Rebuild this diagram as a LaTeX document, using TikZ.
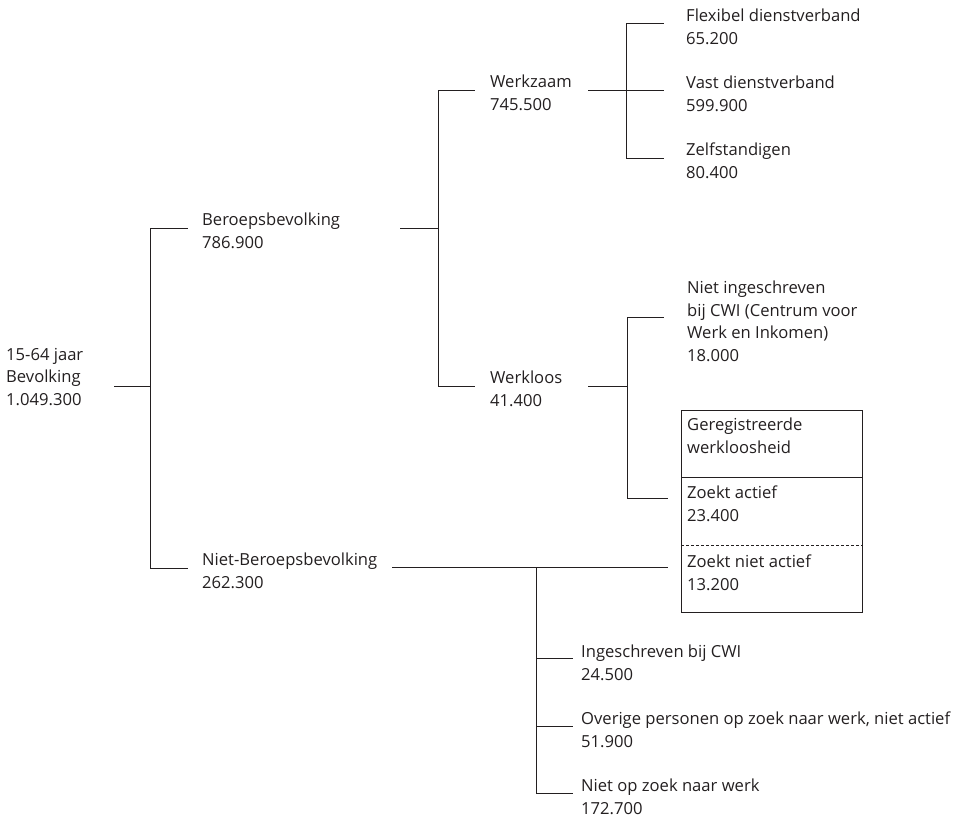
\documentclass[tikz,border=0pt]{standalone}
\usepackage{fontspec}
\setmainfont{Open Sans}
\definecolor{ink}{RGB}{35,31,32}
\begin{document}
\begin{tikzpicture}[x=1pt,y=-1pt,
  lbl/.style={anchor=north west,inner sep=0pt,align=left,text=ink,font=\fontsize{16.6}{22.5}\selectfont},
  conn/.style={draw=ink,line width=1pt},
  sep/.style={draw=ink,line width=1pt},
  dsep/.style={draw=ink,line width=1pt,dash pattern=on 3pt off 2pt}]
\useasboundingbox (0,0) rectangle (964,817);
% text nodes
\node[lbl] (root) at (6,348) {15-64 jaar\\Bevolking\\1.049.300};
\node[lbl] (beroeps) at (202,213) {Beroepsbevolking\\786.900};
\node[lbl] (nietb) at (202,553) {Niet-Beroepsbevolking\\262.300};
\node[lbl] (werkz) at (490,75) {Werkzaam\\745.500};
\node[lbl] (werkl) at (490,371) {Werkloos\\41.400};
\node[lbl] (flex) at (686,9) {Flexibel dienstverband\\65.200};
\node[lbl] (vast) at (686,76) {Vast dienstverband\\599.900};
\node[lbl] (zelf) at (686,143) {Zelfstandigen\\80.400};
\node[lbl] (nietin) at (687,281) {Niet ingeschreven\\bij CWI (Centrum voor\\Werk en Inkomen)\\18.000};
\node[draw=ink,line width=1pt,anchor=north west,minimum width=181pt,minimum height=202pt,inner sep=0pt] (box) at (681,410) {};
\node[lbl] (gereg) at (687,418) {Geregistreerde\\werkloosheid};
\node[lbl] (actief) at (687,486) {Zoekt actief\\23.400};
\node[lbl] (nactief) at (687,555) {Zoekt niet actief\\13.200};
\node[lbl] (ingcwi) at (581,645) {Ingeschreven bij CWI\\24.500};
\node[lbl] (overig) at (581,712) {Overige personen op zoek naar werk, niet actief\\51.900};
\node[lbl] (nietzoek) at (581,779) {Niet op zoek naar werk\\172.700};
% joints
\coordinate (r0) at (114,386);
\coordinate (r1) at (150,386);
\coordinate (r1t) at (150,228);
\coordinate (r1b) at (150,568);
\coordinate (beE) at (188,228);
\coordinate (nbE) at (188,568);
\coordinate (b0) at (400,228);
\coordinate (b1) at (438,228);
\coordinate (b1t) at (438,90);
\coordinate (b1b) at (438,386);
\coordinate (wzE) at (475,90);
\coordinate (wlE) at (475,386);
\coordinate (w0) at (588,90);
\coordinate (w1) at (626,90);
\coordinate (w1t) at (626,23);
\coordinate (w1b) at (626,158);
\coordinate (flE) at (664,23);
\coordinate (vaE) at (664,90);
\coordinate (zeE) at (664,158);
\coordinate (l0) at (588,386);
\coordinate (l1) at (627,386);
\coordinate (l1t) at (627,317);
\coordinate (l1b) at (627,498);
\coordinate (niE) at (664,317);
\coordinate (zaE) at (668,498);
\coordinate (n0) at (392,567);
\coordinate (n1) at (536,567);
\coordinate (n1b) at (536,793);
\coordinate (znE) at (668,567);
\coordinate (icE) at (573,658);
\coordinate (ovE) at (573,726);
\coordinate (nzE) at (573,793);
% connectors
\draw[conn] (r0) -- (r1);
\draw[conn] (r1t) -- (r1b);
\draw[conn] (r1t) -- (beE);
\draw[conn] (r1b) -- (nbE);
\draw[conn] (b0) -- (b1);
\draw[conn] (b1t) -- (b1b);
\draw[conn] (b1t) -- (wzE);
\draw[conn] (b1b) -- (wlE);
\draw[conn] (w0) -- (w1);
\draw[conn] (w1t) -- (w1b);
\draw[conn] (w1t) -- (flE);
\draw[conn] (w1) -- (vaE);
\draw[conn] (w1b) -- (zeE);
\draw[conn] (l0) -- (l1);
\draw[conn] (l1t) -- (l1b);
\draw[conn] (l1t) -- (niE);
\draw[conn] (l1b) -- (zaE);
\draw[conn] (n0) -- (znE);
\draw[conn] (n1) -- (n1b);
\draw[conn] (n1 |- icE) -- (icE);
\draw[conn] (n1 |- ovE) -- (ovE);
\draw[conn] (n1b) -- (nzE);
% box separators
\draw[sep] (box.west |- 0,477) -- (box.east |- 0,477);
\draw[dsep] (box.west |- 0,545) -- (box.east |- 0,545);
\end{tikzpicture}
\end{document}
